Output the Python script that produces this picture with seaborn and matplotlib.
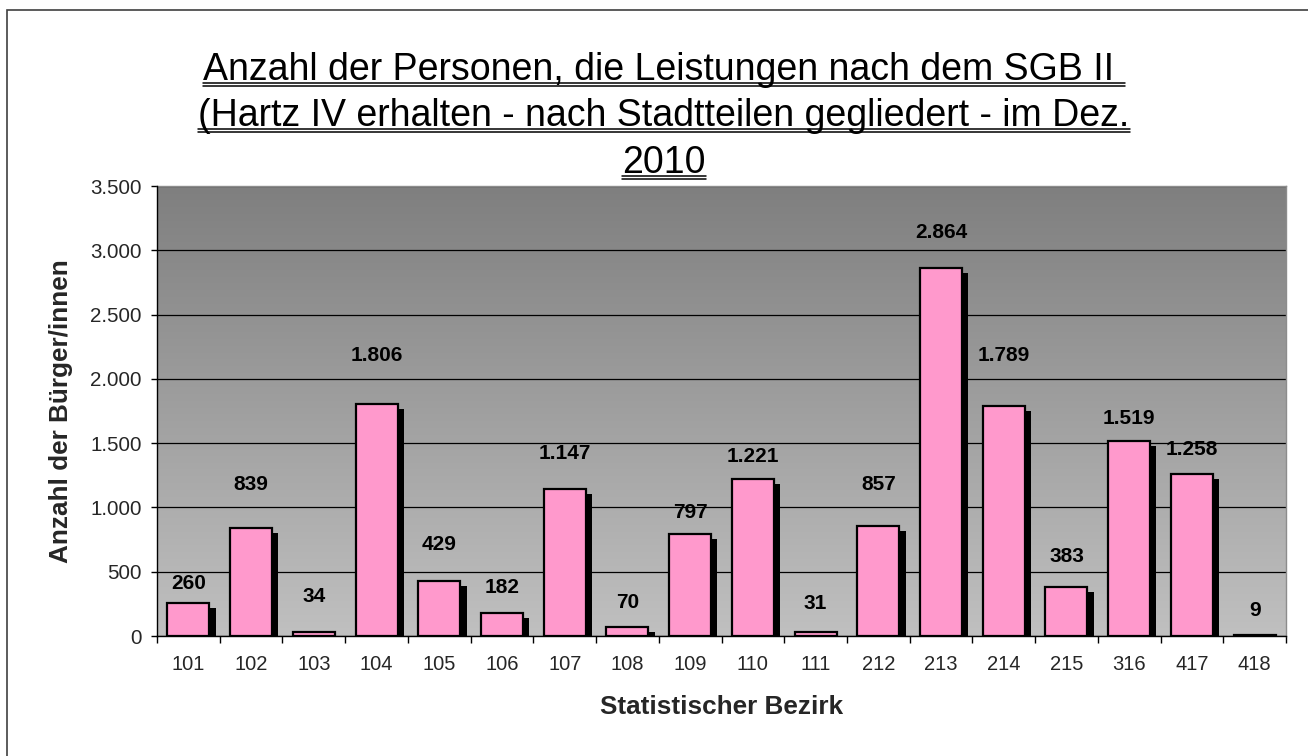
import numpy as np
import pandas as pd
import seaborn as sb
import matplotlib.pyplot as plt
import matplotlib.patheffects as pe
from matplotlib.lines import Line2D
from matplotlib.patches import Rectangle
from matplotlib.ticker import FuncFormatter, FixedLocator

bezirk = ['101', '102', '103', '104', '105', '106', '107', '108', '109',
          '110', '111', '212', '213', '214', '215', '316', '417', '418']
personen = [260, 839, 34, 1806, 429, 182, 1147, 70, 797,
            1221, 31, 857, 2864, 1789, 383, 1519, 1258, 9]
# how far above each bar its label sits (data units)
label_offset = [152, 343, 277, 372, 279, 199, 269, 194, 160,
                179, 218, 325, 278, 389, 239, 169, 189, 193]

title_lines = ['Anzahl der Personen, die Leistungen nach dem SGB II ',
               '(Hartz IV erhalten - nach Stadtteilen gegliedert - im Dez.',
               '2010']

df = pd.DataFrame({'Bezirk': bezirk, 'Personen': personen})

sb.set_style('white')
plt.rcParams['font.family'] = ['Liberation Sans', 'DejaVu Sans']

W, H = 1308, 756
fig = plt.figure(figsize=(W / 100, H / 100), dpi=100)
ax = fig.add_axes([157 / W, 1 - 636 / H, (1286 - 157) / W, (636 - 186) / H])

# gradient plot area (dark top -> light bottom)
grad = np.linspace(0, 1, 256).reshape(-1, 1)
ax.imshow(grad, cmap=plt.matplotlib.colors.LinearSegmentedColormap.from_list(
    'g', ['#7f7f7f', '#c0c0c0']), aspect='auto', extent=(0, 1, 0, 1),
    transform=ax.transAxes, zorder=0)

sb.barplot(data=df, x='Bezirk', y='Personen', order=bezirk, color='#ff99cc',
           saturation=1, edgecolor='black', linewidth=1.6, width=0.67, ax=ax,
           zorder=3)

for p in ax.patches:
    p.set_path_effects([pe.SimplePatchShadow(offset=(4.5, -3.6), shadow_rgbFace='black',
                                             alpha=1.0), pe.Normal()])

for i, (v, off) in enumerate(zip(personen, label_offset)):
    ax.text(i, v + off, f'{v:,}'.replace(',', '.'), ha='center', va='center',
            fontsize=15, fontweight='bold', color='black', zorder=5)

ax.set_ylim(0, 3500)
ax.set_xlim(-0.5, len(bezirk) - 0.5)
ax.set_yticks(np.arange(0, 3501, 500))
ax.yaxis.set_major_formatter(FuncFormatter(lambda v, _: f'{int(v):,}'.replace(',', '.')))
ax.grid(axis='y', color='black', linewidth=0.9, zorder=1)
ax.set_axisbelow(True)

ax.xaxis.set_minor_locator(FixedLocator(np.arange(-0.5, len(bezirk), 1)))
ax.tick_params(axis='x', which='major', length=0, pad=14, labelsize=14.5)
ax.tick_params(axis='x', which='minor', length=5, width=1, color='black', direction='out')
ax.tick_params(axis='y', which='major', length=4, width=1, color='black', pad=7,
               labelsize=14.8, direction='out')
ax.tick_params(bottom=False, which='major', axis='x')
ax.tick_params(bottom=True, which='minor', axis='x')
ax.tick_params(left=True, axis='y')

for s in ['top', 'right']:
    ax.spines[s].set_color('#8c8c8c')
    ax.spines[s].set_linewidth(1)
for s in ['left', 'bottom']:
    ax.spines[s].set_color('black')
    ax.spines[s].set_linewidth(1)
    ax.spines[s].set_zorder(6)

ax.set_xlabel('Statistischer Bezirk', fontsize=18.8, fontweight='bold')
ax.set_ylabel('Anzahl der Bürger/innen', fontsize=18.8, fontweight='bold')
ax.xaxis.label.set_va('center')
ax.yaxis.label.set_va('center')
ax.xaxis.set_label_coords(0.5, (636 - 707) / 450)
ax.yaxis.set_label_coords((61 - 157) / 1129, 0.5)

# title, line by line, double underlined
baselines = [80, 126, 173]
texts = []
for line, b in zip(title_lines, baselines):
    texts.append(fig.text(664 / W, 1 - b / H, line, ha='center', va='baseline',
                          fontsize=27, color='black'))

fig.canvas.draw()
r = fig.canvas.get_renderer()
for t, b in zip(texts, baselines):
    bb = t.get_window_extent(r)
    for dy in (2.5, 6.0):
        y = 1 - (b + dy) / H
        fig.add_artist(Line2D([bb.x0 / W, bb.x1 / W], [y, y], color='black',
                              linewidth=1.1, transform=fig.transFigure))

# chart border (runs off the picture on the right and bottom)
fig.add_artist(Rectangle((7 / W, -0.05), 1.1, 1 - 10.5 / H + 0.05,
                         transform=fig.transFigure, fill=False,
                         edgecolor='#404040', linewidth=1.2))

fig.savefig('out.png', dpi=100)
